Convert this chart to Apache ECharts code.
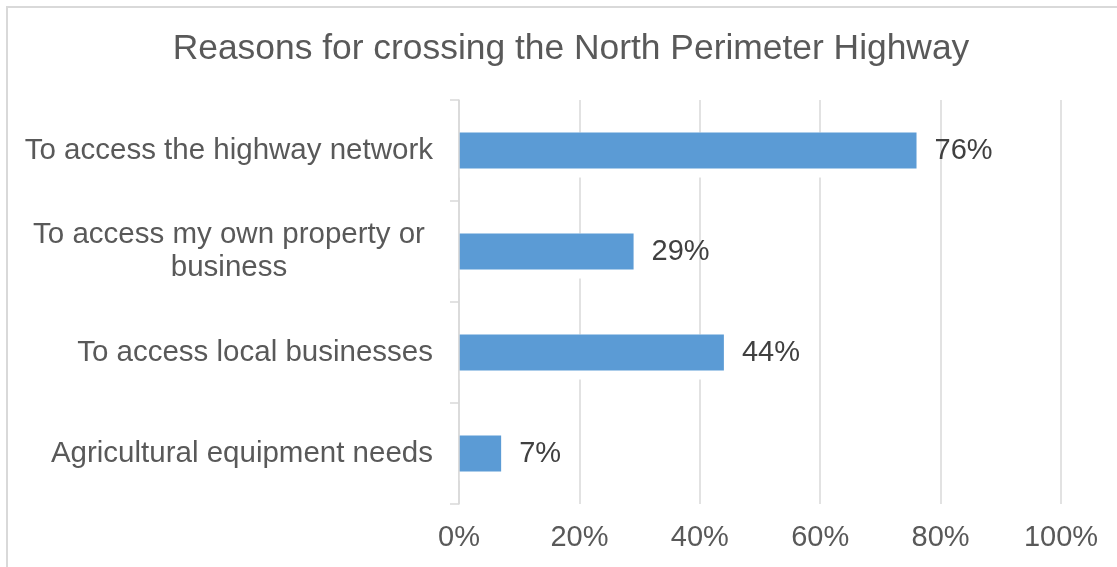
<!DOCTYPE html>
<html>
<head>
<meta charset="utf-8">
<title>Reasons for crossing the North Perimeter Highway</title>
<script src="https://cdn.jsdelivr.net/npm/echarts@6/dist/echarts.min.js"></script>
<style>
  html, body { margin: 0; padding: 0; background: #ffffff; }
  #chart { width: 1117px; height: 567px; }
</style>
</head>
<body>
<div id="chart"></div>
<script>
// Survey answers, listed top to bottom as shown
const reasons = [
  'To access the highway network',
  'To access my own property or\nbusiness',
  'To access local businesses',
  'Agricultural equipment needs'
];
const shares = [76, 29, 44, 7];
const percentTicks = [0, 20, 40, 60, 80, 100];

const chart = echarts.init(document.getElementById('chart'), null, { renderer: 'canvas' });

const font = '"Liberation Sans", Arial, sans-serif';

chart.setOption({
  backgroundColor: '#ffffff',
  animation: false,
  title: {
    text: 'Reasons for crossing the North Perimeter Highway',
    left: 566,
    top: 27,
    textAlign: 'center',
    textStyle: { fontFamily: font, fontSize: 35.4, fontWeight: 'normal', color: '#595959' }
  },
  graphic: [{
    type: 'rect',
    silent: true,
    shape: { x: 7, y: 7, width: 1300, height: 800 },
    style: { fill: 'none', stroke: '#d9d9d9', lineWidth: 2 }
  }],
  grid: { left: 459, right: 56, top: 100, bottom: 63, containLabel: false },
  xAxis: {
    type: 'value',
    min: percentTicks[0],
    max: percentTicks[percentTicks.length - 1],
    interval: percentTicks[1] - percentTicks[0],
    axisLine: { show: false },
    axisTick: { show: false },
    splitLine: { show: true, lineStyle: { color: '#d9d9d9', width: 1.5 } },
    axisLabel: {
      margin: 19,
      fontFamily: font,
      fontSize: 29,
      color: '#595959',
      formatter: v => v + '%'
    }
  },
  yAxis: {
    type: 'category',
    inverse: true,
    data: reasons,
    z: 5,
    axisLine: { show: true, lineStyle: { color: '#d9d9d9', width: 1.5 } },
    axisTick: { show: true, length: 9, lineStyle: { color: '#d9d9d9', width: 1.5 } },
    splitLine: { show: false },
    axisLabel: {
      margin: 26,
      fontFamily: font,
      fontSize: 29.5,
      color: '#595959',
      formatter: name => name.indexOf('\n') >= 0
        ? name.split('\n').map(line => '{c|' + line + '}').join('\n')
        : name,
      rich: {
        c: {
          width: 408,
          align: 'center',
          lineHeight: 33,
          fontFamily: font,
          fontSize: 29.5,
          color: '#595959'
        }
      }
    }
  },
  series: [
    {
      // white halo behind each bar so gridlines stop short of it
      type: 'bar',
      data: shares,
      barWidth: 45,
      silent: true,
      itemStyle: { color: '#ffffff' }
    },
    {
      type: 'bar',
      data: shares,
      barWidth: 36,
      barGap: '-100%',
      itemStyle: { color: '#5B9BD5' },
      label: {
        show: true,
        position: 'right',
        distance: 18,
        fontFamily: font,
        fontSize: 29,
        color: '#404040',
        formatter: p => p.value + '%'
      }
    }
  ]
});
</script>
</body>
</html>
